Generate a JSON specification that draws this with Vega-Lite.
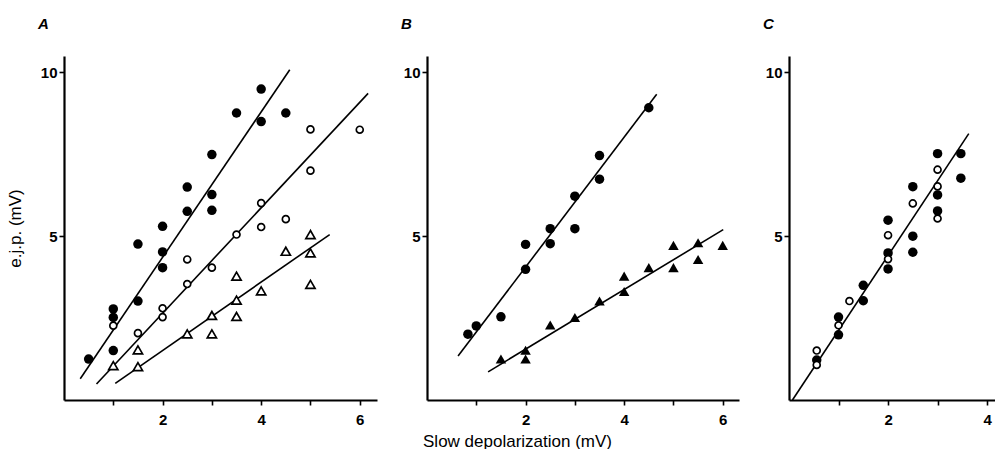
{
  "$schema": "https://vega.github.io/schema/vega-lite/v6.json",
  "padding": {"left": 6, "top": 17, "right": 0, "bottom": 0},
  "background": "white",
  "bounds": "flush",
  "spacing": 50,
  "config": {
    "view": {"stroke": null},
    "axis": {
      "grid": false,
      "domainColor": "black",
      "domainWidth": 2.2,
      "tickColor": "black",
      "tickWidth": 1.6,
      "tickSize": 5,
      "labelFont": "Liberation Sans",
      "labelFontWeight": "bold",
      "labelFontSize": 15,
      "labelColor": "black",
      "titleFont": "Liberation Sans",
      "titleFontWeight": "normal",
      "titleFontSize": 17,
      "titleColor": "black"
    },
    "axisX": {"labelPadding": 7},
    "axisY": {"labelPadding": 2},
    "title": {"font": "Liberation Sans", "fontSize": 15, "fontStyle": "italic", "fontWeight": "bold", "color": "black", "anchor": "start", "frame": "group", "dx": -26, "offset": 24, "baseline": "alphabetic"}
  },
  "datasets": {
    "A_pts": [
      {"s": "fc", "x": 0.5, "y": 1.25}, {"s": "fc", "x": 1, "y": 2.78}, {"s": "fc", "x": 1, "y": 2.52}, {"s": "fc", "x": 1, "y": 1.51},
      {"s": "fc", "x": 1.5, "y": 4.76}, {"s": "fc", "x": 1.5, "y": 3.02}, {"s": "fc", "x": 2, "y": 5.3}, {"s": "fc", "x": 2, "y": 4.52},
      {"s": "fc", "x": 2, "y": 4.04}, {"s": "fc", "x": 2.5, "y": 6.5}, {"s": "fc", "x": 2.5, "y": 5.76}, {"s": "fc", "x": 3, "y": 7.49},
      {"s": "fc", "x": 3, "y": 6.27}, {"s": "fc", "x": 3, "y": 5.79}, {"s": "fc", "x": 3.5, "y": 8.76}, {"s": "fc", "x": 4, "y": 9.49},
      {"s": "fc", "x": 4, "y": 8.5}, {"s": "fc", "x": 4.5, "y": 8.76},
      {"s": "oc", "x": 1, "y": 2.27}, {"s": "oc", "x": 1.5, "y": 2.04}, {"s": "oc", "x": 2, "y": 2.8}, {"s": "oc", "x": 2, "y": 2.53},
      {"s": "oc", "x": 2.5, "y": 4.29}, {"s": "oc", "x": 2.5, "y": 3.54}, {"s": "oc", "x": 3, "y": 4.04}, {"s": "oc", "x": 3.5, "y": 5.05},
      {"s": "oc", "x": 4, "y": 6.01}, {"s": "oc", "x": 4, "y": 5.28}, {"s": "oc", "x": 4.5, "y": 5.52}, {"s": "oc", "x": 5, "y": 8.26},
      {"s": "oc", "x": 5, "y": 7.0}, {"s": "oc", "x": 6, "y": 8.25},
      {"s": "ot", "x": 1, "y": 1.05}, {"s": "ot", "x": 1.5, "y": 1.53}, {"s": "ot", "x": 1.5, "y": 1.02}, {"s": "ot", "x": 2.5, "y": 2.02},
      {"s": "ot", "x": 3, "y": 2.58}, {"s": "ot", "x": 3, "y": 2.02}, {"s": "ot", "x": 3.5, "y": 3.78}, {"s": "ot", "x": 3.5, "y": 3.05},
      {"s": "ot", "x": 3.5, "y": 2.55}, {"s": "ot", "x": 4, "y": 3.33}, {"s": "ot", "x": 4.5, "y": 4.54}, {"s": "ot", "x": 5, "y": 5.05},
      {"s": "ot", "x": 5, "y": 4.49}, {"s": "ot", "x": 5, "y": 3.53}
    ],
    "A_lines": [
      {"s": "fc", "x": 0.33, "y": 0.65}, {"s": "fc", "x": 4.58, "y": 10.08},
      {"s": "oc", "x": 0.66, "y": 0.49}, {"s": "oc", "x": 6.17, "y": 9.36},
      {"s": "ot", "x": 1.04, "y": 0.51}, {"s": "ot", "x": 5.39, "y": 5.05}
    ],
    "B_pts": [
      {"s": "fc", "x": 0.83, "y": 2.01}, {"s": "fc", "x": 1, "y": 2.26}, {"s": "fc", "x": 1.5, "y": 2.54}, {"s": "fc", "x": 2, "y": 4.75},
      {"s": "fc", "x": 2, "y": 3.99}, {"s": "fc", "x": 2.5, "y": 5.23}, {"s": "fc", "x": 2.5, "y": 4.77}, {"s": "fc", "x": 3, "y": 6.22},
      {"s": "fc", "x": 3, "y": 5.23}, {"s": "fc", "x": 3.5, "y": 7.46}, {"s": "fc", "x": 3.5, "y": 6.74}, {"s": "fc", "x": 4.5, "y": 8.92},
      {"s": "ft", "x": 1.5, "y": 1.25}, {"s": "ft", "x": 2, "y": 1.52}, {"s": "ft", "x": 2, "y": 1.25}, {"s": "ft", "x": 2.5, "y": 2.29},
      {"s": "ft", "x": 3, "y": 2.52}, {"s": "ft", "x": 3.5, "y": 3.02}, {"s": "ft", "x": 4, "y": 3.78}, {"s": "ft", "x": 4, "y": 3.31},
      {"s": "ft", "x": 4.5, "y": 4.04}, {"s": "ft", "x": 5, "y": 4.72}, {"s": "ft", "x": 5, "y": 4.04}, {"s": "ft", "x": 5.5, "y": 4.8},
      {"s": "ft", "x": 5.5, "y": 4.29}, {"s": "ft", "x": 6, "y": 4.72}
    ],
    "B_lines": [
      {"s": "fc", "x": 0.63, "y": 1.34}, {"s": "fc", "x": 4.66, "y": 9.33},
      {"s": "ft", "x": 1.24, "y": 0.86}, {"s": "ft", "x": 6.01, "y": 5.2}
    ],
    "C_pts": [
      {"s": "fc", "x": 0.56, "y": 1.22}, {"s": "fc", "x": 1, "y": 2.53}, {"s": "fc", "x": 1, "y": 1.99}, {"s": "fc", "x": 1.5, "y": 3.5},
      {"s": "fc", "x": 1.5, "y": 3.03}, {"s": "fc", "x": 2, "y": 5.49}, {"s": "fc", "x": 2, "y": 4.49}, {"s": "fc", "x": 2, "y": 4.0},
      {"s": "fc", "x": 2.5, "y": 6.51}, {"s": "fc", "x": 2.5, "y": 5.0}, {"s": "fc", "x": 2.5, "y": 4.51}, {"s": "fc", "x": 3, "y": 7.52},
      {"s": "fc", "x": 3, "y": 6.26}, {"s": "fc", "x": 3, "y": 5.77}, {"s": "fc", "x": 3.47, "y": 7.52}, {"s": "fc", "x": 3.47, "y": 6.77},
      {"s": "oc", "x": 0.56, "y": 1.51}, {"s": "oc", "x": 0.56, "y": 1.07}, {"s": "oc", "x": 1, "y": 2.28}, {"s": "oc", "x": 1.22, "y": 3.02},
      {"s": "oc", "x": 2, "y": 5.03}, {"s": "oc", "x": 2, "y": 4.3}, {"s": "oc", "x": 2.5, "y": 6.0}, {"s": "oc", "x": 3, "y": 7.03},
      {"s": "oc", "x": 3, "y": 6.52}, {"s": "oc", "x": 3, "y": 5.54}
    ],
    "C_lines": [
      {"s": "fc", "x": 0.07, "y": 0}, {"s": "fc", "x": 3.63, "y": 8.13}
    ]
  },
  "hconcat": [
    {
      "title": "A",
      "width": 313,
      "height": 344,
      "layer": [
        {
          "data": {"name": "A_lines"},
          "mark": {"type": "line", "color": "black", "strokeWidth": 1.6},
          "encoding": {
            "x": {"field": "x", "type": "quantitative", "scale": {"domain": [0, 6.35], "nice": false}, "axis": {"values": [1, 2, 3, 4, 5, 6], "labelExpr": "datum.value % 2 == 0 ? format(datum.value, 'd') : ''", "title": null}},
            "y": {"field": "y", "type": "quantitative", "scale": {"domain": [0, 10.5], "nice": false}, "axis": {"values": [5, 10], "labelExpr": "format(datum.value, 'd')", "title": "e.j.p. (mV)", "titlePadding": 16}},
            "detail": {"field": "s"}
          }
        },
        {
          "data": {"name": "A_pts"},
          "transform": [{"filter": "datum.s == 'fc'"}],
          "mark": {"type": "point", "shape": "circle", "filled": true, "color": "black", "size": 90, "opacity": 1},
          "encoding": {"x": {"field": "x", "type": "quantitative"}, "y": {"field": "y", "type": "quantitative"}}
        },
        {
          "data": {"name": "A_pts"},
          "transform": [{"filter": "datum.s == 'oc'"}],
          "mark": {"type": "point", "shape": "circle", "filled": true, "fill": "white", "stroke": "black", "strokeWidth": 1.7, "size": 48, "opacity": 1},
          "encoding": {"x": {"field": "x", "type": "quantitative"}, "y": {"field": "y", "type": "quantitative"}}
        },
        {
          "data": {"name": "A_pts"},
          "transform": [{"filter": "datum.s == 'ot'"}],
          "mark": {"type": "point", "shape": "triangle-up", "filled": true, "fill": "white", "stroke": "black", "strokeWidth": 1.7, "size": 85, "opacity": 1},
          "encoding": {"x": {"field": "x", "type": "quantitative"}, "y": {"field": "y", "type": "quantitative"}}
        }
      ]
    },
    {
      "title": "B",
      "width": 312,
      "height": 344,
      "layer": [
        {
          "data": {"name": "B_lines"},
          "mark": {"type": "line", "color": "black", "strokeWidth": 1.6},
          "encoding": {
            "x": {"field": "x", "type": "quantitative", "scale": {"domain": [0, 6.33], "nice": false}, "axis": {"values": [1, 2, 3, 4, 5, 6], "labelExpr": "datum.value % 2 == 0 ? format(datum.value, 'd') : ''", "title": "Slow depolarization (mV)", "titleX": 90, "titleY": 46, "titleAlign": "center", "titleBaseline": "alphabetic"}},
            "y": {"field": "y", "type": "quantitative", "scale": {"domain": [0, 10.5], "nice": false}, "axis": {"values": [5, 10], "labelExpr": "format(datum.value, 'd')", "title": null}},
            "detail": {"field": "s"}
          }
        },
        {
          "data": {"name": "B_pts"},
          "transform": [{"filter": "datum.s == 'fc'"}],
          "mark": {"type": "point", "shape": "circle", "filled": true, "color": "black", "size": 90, "opacity": 1},
          "encoding": {"x": {"field": "x", "type": "quantitative"}, "y": {"field": "y", "type": "quantitative"}}
        },
        {
          "data": {"name": "B_pts"},
          "transform": [{"filter": "datum.s == 'ft'"}],
          "mark": {"type": "point", "shape": "triangle-up", "filled": true, "color": "black", "size": 110, "opacity": 1},
          "encoding": {"x": {"field": "x", "type": "quantitative"}, "y": {"field": "y", "type": "quantitative"}}
        }
      ]
    },
    {
      "title": "C",
      "width": 208,
      "height": 344,
      "layer": [
        {
          "data": {"name": "C_lines"},
          "mark": {"type": "line", "color": "black", "strokeWidth": 1.6},
          "encoding": {
            "x": {"field": "x", "type": "quantitative", "scale": {"domain": [0, 4.2], "nice": false}, "axis": {"values": [1, 2, 3, 4], "labelExpr": "datum.value % 2 == 0 ? format(datum.value, 'd') : ''", "title": null}},
            "y": {"field": "y", "type": "quantitative", "scale": {"domain": [0, 10.5], "nice": false}, "axis": {"values": [5, 10], "labelExpr": "format(datum.value, 'd')", "title": null}},
            "detail": {"field": "s"}
          }
        },
        {
          "data": {"name": "C_pts"},
          "transform": [{"filter": "datum.s == 'fc'"}],
          "mark": {"type": "point", "shape": "circle", "filled": true, "color": "black", "size": 90, "opacity": 1},
          "encoding": {"x": {"field": "x", "type": "quantitative"}, "y": {"field": "y", "type": "quantitative"}}
        },
        {
          "data": {"name": "C_pts"},
          "transform": [{"filter": "datum.s == 'oc'"}],
          "mark": {"type": "point", "shape": "circle", "filled": true, "fill": "white", "stroke": "black", "strokeWidth": 1.7, "size": 48, "opacity": 1},
          "encoding": {"x": {"field": "x", "type": "quantitative"}, "y": {"field": "y", "type": "quantitative"}}
        }
      ]
    }
  ]
}
